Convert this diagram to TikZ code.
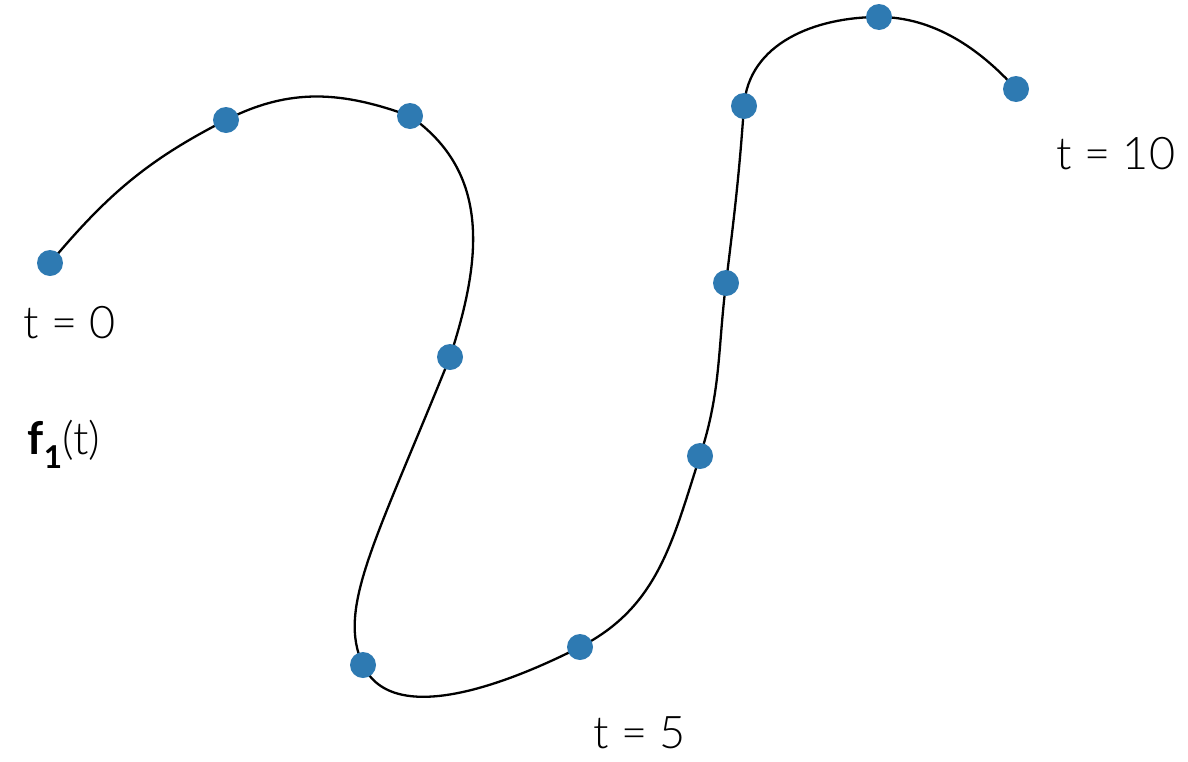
\documentclass[tikz,border=0pt]{standalone}
\usepackage{fontspec}
\setmainfont{Lato Light}[BoldFont={Lato Bold}]
\definecolor{dotblue}{RGB}{46,122,178}
\begin{document}
\begin{tikzpicture}[x=1pt,y=-1pt,
  dot/.style={circle,fill=dotblue,minimum size=26pt,inner sep=0pt},
  curve/.style={line width=2.3pt,black},
  lbl/.style={font=\fontsize{45}{52}\selectfont,inner sep=0pt}]
\useasboundingbox (0,0) rectangle (1188,761);
\coordinate (q0) at (50,263);
\coordinate (q1) at (226,120);
\coordinate (q2) at (410,116);
\coordinate (q3) at (450,357);
\coordinate (q4) at (363,665);
\coordinate (q5) at (580,647);
\coordinate (q6) at (700,456);
\coordinate (q7) at (726,283);
\coordinate (q8) at (744,106);
\coordinate (q9) at (879,17);
\coordinate (q10) at (1016,89);
\draw[curve] (q0) to[out=50,in=207] (q1)
  to[out=27,in=160] (q2)
  to[out=-35,in=72,looseness=1.05] (q3)
  to[out=-112,in=115,out looseness=1.6,in looseness=0.5] (q4)
  to[out=-65,in=207,looseness=0.85] (q5)
  to[out=27,in=252] (q6)
  to[out=72,in=263] (q7)
  to[out=83,in=266] (q8)
  to[out=86,in=180,looseness=1.0] (q9)
  to[out=0,in=132,looseness=0.9] (q10);
\foreach \i in {0,...,10} { \node[dot] (p\i) at (q\i) {}; }
\node[lbl] (l0) at (70,323) {t = 0};
\node[lbl] (lf) at (64,444) {\textbf{f\textsubscript{1}}(t)};
\node[lbl] (l5) at (640,733) {t = 5};
\node[lbl] (l10) at (1116,154) {t = 10};
\end{tikzpicture}
\end{document}
